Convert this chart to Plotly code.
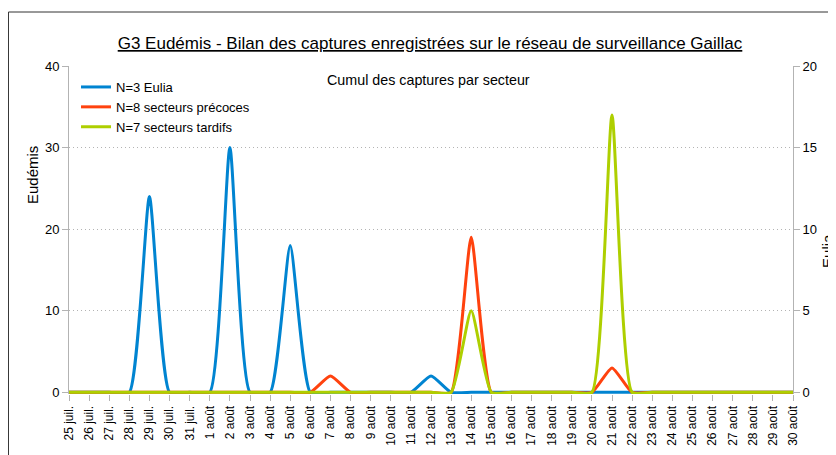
import plotly.graph_objects as go

dates = ["25 juil.", "26 juil.", "27 juil.", "28 juil.", "29 juil.", "30 juil.", "31 juil.",
         "1 août", "2 août", "3 août", "4 août", "5 août", "6 août", "7 août", "8 août",
         "9 août", "10 août", "11 août", "12 août", "13 août", "14 août", "15 août",
         "16 août", "17 août", "18 août", "19 août", "20 août", "21 août", "22 août",
         "23 août", "24 août", "25 août", "26 août", "27 août", "28 août", "29 août", "30 août"]

eulia = [0, 0, 0, 0, 12, 0, 0, 0, 15, 0, 0, 9, 0, 0, 0, 0, 0, 0, 1, 0, 0, 0,
         0, 0, 0, 0, 0, 0, 0, 0, 0, 0, 0, 0, 0, 0, 0]
precoces = [0, 0, 0, 0, 0, 0, 0, 0, 0, 0, 0, 0, 0, 2, 0, 0, 0, 0, 0, 0, 19, 0,
            0, 0, 0, 0, 0, 3, 0, 0, 0, 0, 0, 0, 0, 0, 0]
tardifs = [0, 0, 0, 0, 0, 0, 0, 0, 0, 0, 0, 0, 0, 0, 0, 0, 0, 0, 0, 0, 10, 0,
           0, 0, 0, 0, 0, 34, 0, 0, 0, 0, 0, 0, 0, 0, 0]

left_ticks = [0, 10, 20, 30, 40]
right_ticks = [0, 5, 10, 15, 20]

FONT = "Liberation Sans, Arial, sans-serif"
GRAY = "#b3b3b3"
SMOOTH = 0.5

fig = go.Figure()
fig.add_trace(go.Scatter(x=dates, y=eulia, name="N=3 Eulia", mode="lines", yaxis="y",
                         line=dict(color="#0084d1", width=3, shape="spline", smoothing=SMOOTH)))
fig.add_trace(go.Scatter(x=dates, y=precoces, name="N=8 secteurs précoces", mode="lines", yaxis="y2",
                         line=dict(color="#ff420e", width=3, shape="spline", smoothing=SMOOTH)))
fig.add_trace(go.Scatter(x=dates, y=tardifs, name="N=7 secteurs tardifs", mode="lines", yaxis="y2",
                         line=dict(color="#aecf00", width=3, shape="spline", smoothing=SMOOTH)))

fig.update_layout(
    width=836, height=455,
    margin=dict(l=61, r=51, t=58, b=69),
    paper_bgcolor="white", plot_bgcolor="white",
    font=dict(family=FONT, color="black"),
    title=dict(text="<u>G3 Eudémis - Bilan des captures enregistrées sur le réseau de surveillance Gaillac</u>",
               x=0.5048, xanchor="center", y=0.923, yanchor="middle",
               font=dict(size=17, family=FONT, color="black")),
    xaxis=dict(type="category", range=[0, 36], tickangle=-90, ticks="outside", ticklen=6,
               tickcolor=GRAY, showgrid=False, showline=False, zeroline=False,
               tickfont=dict(size=12, family=FONT, color="black")),
    yaxis=dict(side="right", range=[-0.1, 20], tickvals=right_ticks, ticks="outside", ticklen=6,
               tickcolor=GRAY, showline=True, linecolor=GRAY, linewidth=1,
               showgrid=True, gridcolor=GRAY, griddash="1px,3px", gridwidth=1,
               zeroline=True, zerolinecolor=GRAY, zerolinewidth=1,
               tickfont=dict(size=13, family=FONT, color="black")),
    yaxis2=dict(overlaying="y", side="left", range=[-0.2, 40], tickvals=left_ticks, ticks="outside",
                ticklen=6, tickcolor=GRAY, showline=True, linecolor=GRAY, linewidth=1,
                showgrid=False, zeroline=False,
                tickfont=dict(size=13, family=FONT, color="black")),
    legend=dict(x=0.0097, y=0.9817, xanchor="left", yanchor="top", bgcolor="rgba(0,0,0,0)",
                font=dict(size=13, family=FONT, color="black"), itemwidth=30),
    showlegend=True,
)

fig.add_annotation(text="Cumul des captures par secteur", xref="paper", yref="paper",
                   x=0.4965, y=0.957, xanchor="center", yanchor="middle", showarrow=False,
                   font=dict(size=14.3, family=FONT, color="black"))
fig.add_annotation(text="Eudémis", xref="paper", yref="paper", x=-0.0497, y=0.6677,
                   xanchor="center", yanchor="middle", textangle=-90, showarrow=False,
                   font=dict(size=15, family=FONT, color="black"))
fig.add_annotation(text="Eulia", xref="paper", yref="paper", x=1.0483, y=0.436,
                   xanchor="center", yanchor="middle", textangle=-90, showarrow=False,
                   font=dict(size=15, family=FONT, color="black"))

fig.add_shape(type="rect", xref="paper", yref="paper", x0=-0.0836, x1=1.2, y0=-0.5, y1=1.1646,
              line=dict(color="#333333", width=1), fillcolor="rgba(0,0,0,0)")

fig.write_html("out.html")
